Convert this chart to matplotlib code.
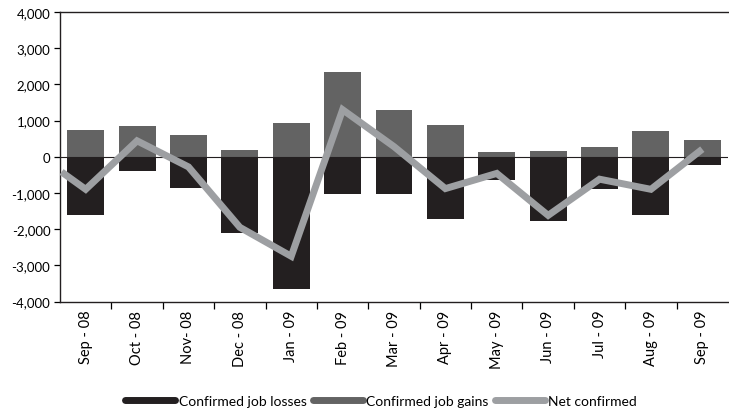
import matplotlib
matplotlib.use('Agg')
import matplotlib.pyplot as plt
import numpy as np

months = ['Sep - 08', 'Oct - 08', 'Nov- 08', 'Dec - 08', 'Jan - 09', 'Feb - 09', 'Mar - 09',
          'Apr - 09', 'May - 09', 'Jun - 09', 'Jul - 09', 'Aug - 09', 'Sep - 09']
job_losses = [-1610, -400, -870, -2100, -3650, -1030, -1030, -1720, -640, -1770, -890, -1610, -230]
job_gains = [730, 840, 600, 200, 920, 2330, 1280, 870, 120, 170, 280, 700, 450]
# net line starts at the left edge of the plot, then one point per month
net_start = -420
net_confirmed = [-900, 440, -280, -1950, -2750, 1300, 280, -880, -460, -1620, -620, -900, 210]

plt.rcParams['font.family'] = ['Lato', 'DejaVu Sans']

fig = plt.figure(figsize=(7.29, 4.14), dpi=100)
ax = fig.add_axes([60 / 729, 1 - 302.5 / 414, 668 / 729, 289.5 / 414])

x = np.arange(len(months))
ax.bar(x, job_losses, width=0.72, color='#231f20', label='Confirmed job losses', zorder=2)
ax.bar(x, job_gains, width=0.72, color='#636363', label='Confirmed job gains', zorder=2)
ax.axhline(0, color='#231f20', lw=0.8, zorder=3)

net_x = np.concatenate([[-0.47], x])
net_y = [net_start] + net_confirmed
ax.plot(net_x, net_y, color='#9d9fa2', lw=5, solid_joinstyle='miter',
        solid_capstyle='butt', label='Net confirmed', zorder=4)

# Оси
ax.set_xlim(-0.5, len(months) - 0.5)
ax.set_ylim(-4000, 4000)
ax.set_yticks(np.arange(-4000, 4001, 1000))
ax.set_yticklabels([f'{v:,}' for v in range(-4000, 4001, 1000)], fontsize=9.5)
ax.set_xticks(x)
ax.set_xticklabels(months, rotation=90, fontsize=10.5)
ax.set_xticks(x[1:] - 0.5, minor=True)
ax.tick_params(axis='x', which='major', length=0, pad=6)
ax.tick_params(axis='x', which='minor', length=5, width=0.9, direction='out')
ax.tick_params(axis='y', length=4, width=0.9, direction='out', pad=3)

for side in ['left', 'top', 'bottom']:
    ax.spines[side].set_linewidth(1.0)
    ax.spines[side].set_color('#231f20')
ax.spines['right'].set_visible(False)

# Легенда: толстые линии с круглыми концами
leg_handles = [plt.Line2D([], [], color=c, lw=5, solid_capstyle='round')
               for c in ['#231f20', '#636363', '#9d9fa2']]
fig.legend(leg_handles, ['Confirmed job losses', 'Confirmed job gains', 'Net confirmed'],
           loc='center', bbox_to_anchor=(381 / 729, 1 - 402 / 414), ncol=3, frameon=False,
           handlelength=3.6, handletextpad=0.25, columnspacing=0.45,
           prop={'size': 10})

fig.savefig('out.png', dpi=100)
